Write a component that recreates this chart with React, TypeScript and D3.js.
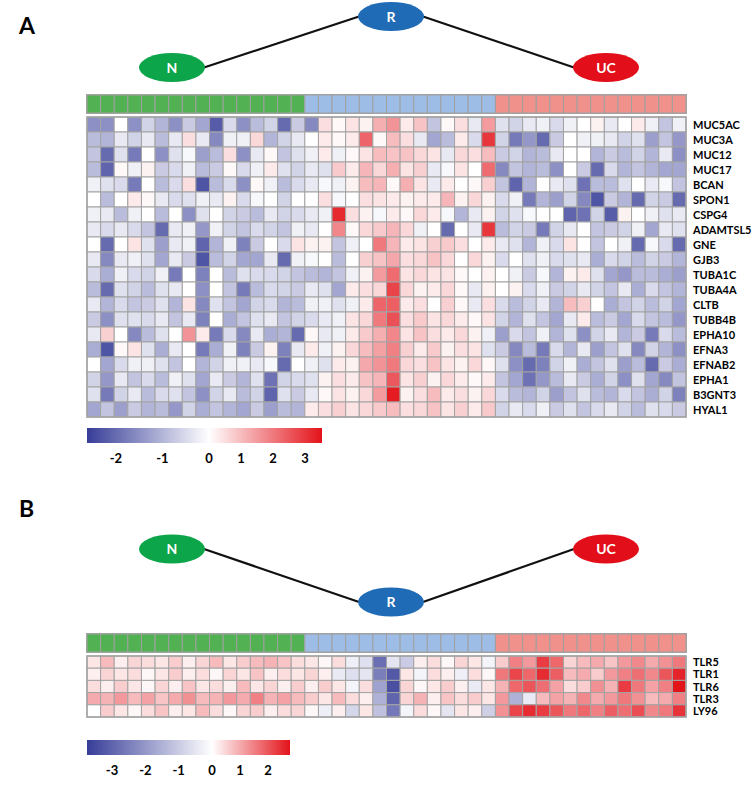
import React from "react";
import * as d3 from "d3";

// sample groups (columns)
const groupNames = ["N", "R", "UC"];
const groupSizes = [16, 14, 14];

// panel A genes + z-scores
const genesA = ["MUC5AC", "MUC3A", "MUC12", "MUC17", "BCAN", "SPON1", "CSPG4", "ADAMTSL5", "GNE", "GJB3",
  "TUBA1C", "TUBA4A", "CLTB", "TUBB4B", "EPHA10", "EFNA3", "EFNAB2", "EPHA1", "B3GNT3", "HYAL1"];
const valuesA = [
  [-1.5,-1.5,0,-1.5,-0.6,-1.0,-1.5,-0.7,-1.2,-2.2,-0.5,-1.5,-0.9,-0.6,-2.0,-0.7, -1.6,0.5,0.1,0.4,0.2,1.2,1.6,0.3,0.9,-0.8,0.1,0.5,-0.3,1.5, -0.4,-0.6,-0.3,-0.2,-0.5,-0.2,0.0,0.2,-0.3,0.0,0.3,-0.2,-0.8,-0.2],
  [-0.9,-1.0,-0.3,-0.6,-0.3,-0.9,-0.3,0.5,-0.3,-1.6,-0.2,-0.2,0.6,-1.0,-0.6,-0.3, 0.0,0.3,0.1,0.3,2.3,0.1,1.0,0.5,-0.3,-1.2,-0.9,0.3,-0.5,3.0, -0.6,-1.8,-1.4,-2.0,-0.7,0.0,-0.2,-0.2,-0.3,-0.6,-0.4,-1.3,-0.8,-1.4],
  [-0.8,-2.0,-0.4,-1.8,0,-1.5,-0.4,-0.1,-1.3,-0.9,0.5,-1.5,-0.3,0.1,-0.8,-0.4, -0.2,0.3,-0.2,0.1,0.4,1.0,0.9,0.9,0.6,0.4,-0.3,0.6,0.5,1.0, -0.7,-0.6,-1.0,-0.9,-0.3,0.0,0.0,-1.0,-0.7,-0.9,-0.6,-1.0,-0.3,-1.5],
  [-0.9,-2.1,0.1,-0.2,0.2,-0.7,-0.5,-0.2,-0.9,-0.7,0.1,-0.5,-0.2,0.3,-0.4,-0.6, -0.3,-0.4,0.8,0.3,1.1,0.6,1.2,0.4,0.7,-0.3,-0.1,0.4,0.0,2.2, -1.6,-0.8,-1.0,-0.9,-1.5,0.0,-0.7,-2.0,-0.5,-1.0,-0.8,-1.0,-1.2,-1.2],
  [-0.2,-0.4,-0.5,-1.8,0,-0.9,-0.5,0.5,-2.3,-0.9,-0.5,-1.5,0.1,-0.2,-0.9,-0.5, -0.3,-0.1,-0.2,0.2,1.0,1.1,0.1,1.2,0.4,-0.3,0.3,0.0,0.1,0.7, -0.8,-2.1,-1.0,0.0,-0.3,-0.4,-1.9,-0.9,-0.9,-0.4,0.0,-0.3,-0.1,-0.8],
  [0,-0.9,0,0.3,0.1,-0.3,-0.5,-0.4,-0.2,-0.3,0.2,-0.5,-0.1,0,-0.6,0, 0.0,0.5,-0.1,0.0,0.5,0.4,0.3,0.2,0.3,0.3,1.1,0.2,0.6,0.2, -0.5,-0.2,-1.8,-1.0,-1.3,-0.6,-1.6,-2.3,-0.7,-1.0,-2.0,-0.6,-0.7,-2.0],
  [-0.2,-0.3,-0.9,-0.2,0.0,-0.9,0.0,-1.5,-0.4,0.0,-0.6,-0.7,-0.9,-0.3,-0.6,-0.5, -0.3,-0.2,3.2,0.5,0.2,-0.1,0.3,0.1,0.6,0.3,-0.1,-1.0,-0.3,0.2, -0.6,-0.4,-0.1,0.0,0.0,-2.1,-1.9,-0.6,-2.2,0.2,0.0,-0.2,-0.4,-0.3],
  [-0.3,-0.5,-0.3,-0.5,-0.8,-2.0,-0.3,-0.2,-1.4,-0.2,-0.6,-0.8,-0.5,-0.6,-0.8,-0.2, -0.3,0.0,1.8,0.1,0.6,0.8,1.1,0.6,-0.2,0.0,-2.0,0.0,-0.3,3.0, -0.9,-0.6,-0.7,-1.8,-0.6,-0.3,0.0,-0.8,-0.7,-0.6,-0.2,-1.2,-0.3,-0.4],
  [0.0,-2.0,0.0,0.4,-0.4,-1.3,-0.3,-0.2,-2.1,-1.0,-0.2,-1.7,-0.7,0.0,-0.5,0.4, 0.2,0.2,-0.8,-0.2,0.0,2.0,1.1,0.3,0.4,0.7,0.8,0.5,0.0,0.3, -0.3,-0.4,-1.0,-0.2,-0.5,0.4,0.0,-0.8,0.0,-0.2,-2.0,-0.1,-0.5,-2.0],
  [-0.3,-1.6,-0.3,-0.2,-0.4,-1.2,-0.3,-0.7,-2.3,-0.9,-0.6,-1.2,-1.2,-0.3,-2.0,-0.2, -0.1,0.0,-0.9,0.0,0.7,0.9,1.3,0.5,0.6,0.9,0.6,0.0,0.6,0.2, -0.5,0.0,-0.4,-0.2,-0.5,-0.4,-0.3,-1.1,-0.5,-0.6,-0.9,-0.6,-0.7,-1.0],
  [-0.5,-1.1,-0.2,-0.5,-0.6,-0.2,-1.8,0.0,-1.7,0.0,-0.9,-0.4,-0.5,-0.5,-0.6,-0.8, -0.9,-1.0,-0.8,-0.2,0.2,1.5,2.2,0.4,0.6,0.4,0.4,0.1,0.0,0.2, 0.0,-0.2,-0.7,-0.1,-1.0,0.2,0.3,-0.4,-1.2,-1.4,-0.9,-0.9,-1.1,-1.3],
  [-0.9,-2.0,-0.4,-0.6,-0.9,-0.4,-0.3,0.0,-1.5,0.0,-0.8,-1.8,-0.9,-0.5,-0.6,-0.7, -0.3,-0.4,-1.2,0.3,0.5,0.6,2.8,0.6,0.2,0.3,0.6,0.1,-0.3,0.2, 0.0,0.2,-0.5,-0.2,-0.7,-0.6,-0.3,-0.6,-0.8,-0.3,-1.1,-0.5,-0.8,-1.0],
  [-0.3,-1.0,-0.5,-0.8,-0.7,-0.4,-1.0,0.4,-1.6,-0.4,-0.8,-1.2,-0.6,-0.5,-1.0,-0.9, -0.2,-0.2,-0.4,-0.2,0.3,2.3,2.4,0.3,0.5,0.0,0.7,0.1,-0.3,0.5, -0.5,-0.9,-0.6,-0.3,-1.0,1.0,0.7,0.0,-1.1,-0.8,-0.6,-0.9,-0.6,-1.2],
  [-0.7,-1.5,-0.4,-0.4,-0.5,-0.3,-0.8,-0.3,-1.7,0.0,-1.1,-0.8,-0.4,-0.3,-0.8,-0.6, -0.5,-0.3,-0.2,0.4,0.6,2.0,2.6,0.5,0.8,0.4,0.6,0.3,0.1,0.4, -0.6,-1.0,-0.4,-0.8,-1.2,-0.3,0.3,-0.9,-0.7,-1.2,-0.5,-0.8,-0.9,-1.4],
  [-0.3,0.7,0.0,-1.6,-0.9,-0.4,0.0,1.6,0.3,-1.8,-0.5,-1.6,-0.3,-1.1,-1.0,-2.0, 0.1,-0.3,-0.2,0.3,0.8,1.2,1.8,0.4,0.9,0.5,0.3,0.6,0.2,-0.2, -1.3,-0.5,-0.8,-0.2,-1.0,-0.4,-1.5,-0.6,-0.3,-1.0,-0.7,-1.8,-0.5,-0.9],
  [-1.1,-2.3,0.1,0.4,-0.4,-1.1,-0.3,0.0,-1.8,-1.1,-0.2,-1.7,-0.7,0.2,-1.7,-0.3, 0.3,-0.2,0.2,0.6,1.0,1.4,1.9,0.7,0.3,0.8,0.2,0.5,0.4,-0.4, -0.7,-1.6,-0.9,-1.8,-0.5,-1.0,-0.3,-1.3,-0.8,-0.4,-1.6,-0.6,-1.0,-1.5],
  [0.0,-1.2,-0.5,-0.2,-0.2,-0.4,-0.8,0.0,-1.0,-0.6,-0.2,-0.2,-0.3,-0.1,-2.0,0.0, -0.2,-0.4,0.3,0.2,1.3,1.6,2.0,0.6,0.5,0.9,0.4,0.2,0.6,0.1, -0.4,-1.5,-2.0,-1.7,-0.6,-0.2,-1.1,-0.8,-0.4,-1.3,-0.9,-2.0,-0.7,-1.1],
  [-0.6,-1.4,-0.3,-0.8,-0.5,-0.9,-0.2,-0.4,-1.2,-0.3,-0.7,-1.0,-0.4,-1.9,-0.6,-0.5, -0.4,0.2,0.5,0.3,0.9,1.1,2.5,0.4,0.7,0.2,0.6,0.3,0.1,0.3, -0.8,-1.2,-1.9,-1.4,-0.9,-0.3,-0.7,-1.1,-0.6,-1.5,-0.4,-1.2,-1.6,-0.8],
  [-0.4,-1.8,-0.6,-0.3,-0.9,-0.5,-0.4,-0.8,-1.5,-0.6,-0.3,-0.9,-0.6,-2.1,-0.4,-0.7, -0.3,0.1,0.4,0.2,0.6,1.5,3.4,0.2,0.5,1.0,0.3,0.5,0.2,0.6, -0.5,-0.9,-1.0,-0.6,-1.3,-0.8,-0.4,-0.9,-1.0,-0.5,-0.8,-1.1,-0.6,-1.7],
  [-1.2,-0.8,-1.3,-0.7,-1.0,-0.9,-1.4,-0.6,-1.1,-0.8,-1.0,-1.2,-0.7,-1.3,-0.9,-1.0, 0.3,0.5,0.7,0.4,0.6,0.8,1.0,0.5,0.6,0.9,0.4,0.7,0.3,0.8, -0.6,-0.3,-0.5,-0.2,-0.7,-0.4,-0.8,-0.5,-0.3,-0.6,-0.9,-0.4,-0.5,-0.7],
];
const ticksA = [-2, -1, 0, 1, 2, 3];
const rangeA = [-2.62, 0, 3.53];

// panel B genes + z-scores
const genesB = ["TLR5", "TLR1", "TLR6", "TLR3", "LY96"];
const valuesB = [
  [0.3,0.8,0.2,0.5,0.4,0.3,0.6,0.2,0.5,0.8,0.3,0.6,0.8,0.9,0.7,0.4, 0.3,0.1,0.4,-0.3,-0.6,-2.8,-0.5,-1.0,0.2,0.4,0.1,0.5,0.3,-0.2, 0.6,1.5,1.2,2.3,1.8,0.5,0.8,1.0,0.7,1.2,1.4,1.0,1.3,1.6],
  [0.2,0.5,0.3,0.4,0.1,0.3,0.6,0.2,0.4,0.1,0.5,0.3,0.7,0.2,0.4,0.3, 0.5,0.2,-0.4,-0.6,-0.5,-2.5,-3.2,0.3,-0.2,0.4,0.2,-0.3,0.4,0.1, 1.6,2.2,1.8,2.5,1.9,0.8,1.0,0.6,1.2,1.5,1.7,1.4,2.0,2.6],
  [0.4,0.2,0.6,0.3,0.1,0.5,0.2,0.7,0.3,0.4,0.2,0.8,0.3,0.5,0.2,0.6, 0.2,0.6,0.3,-0.2,0.4,-1.8,-3.4,0.5,0.1,0.3,0.6,0.2,-0.4,0.3, 0.9,1.8,2.0,1.7,1.1,0.4,0.6,1.3,0.9,2.3,1.6,1.1,1.5,2.8],
  [1.0,0.9,1.2,0.8,1.1,0.7,1.0,1.3,0.8,0.9,1.2,1.0,1.5,0.9,1.1,0.8, 0.6,0.3,0.8,0.4,0.2,-1.5,-3.0,0.5,0.9,0.2,0.7,0.4,0.6,0.3, 1.2,-1.5,-0.4,0.8,1.1,0.9,1.4,1.0,1.2,1.6,1.3,0.8,1.0,1.5],
  [0.0,0.6,0.3,0.1,0.4,0.7,0.2,0.3,0.8,0.4,0.1,0.5,0.6,0.2,0.4,0.5, 0.1,-0.3,0.2,-0.8,0.3,-1.2,-2.6,-0.2,0.4,0.1,-0.5,0.3,0.2,-0.9, 1.3,2.2,2.5,2.3,2.0,1.6,1.8,1.5,1.9,1.7,2.1,1.4,1.6,2.4],
];
const ticksB = [-3, -2, -1, 0, 1, 2];
const rangeB = [-3.75, 0, 2.79];

const groupFill: Record<string, string> = { N: "#52b152", R: "#9dbde6", UC: "#f0918b" };
const nodeFill: Record<string, string> = { N: "#0ca54a", R: "#1f6bb6", UC: "#e20f1a" };
const FONT = "Lato, 'Open Sans', sans-serif";

const columns = groupNames.flatMap((g, i) => d3.range(groupSizes[i]).map(() => g));

const x = d3.scaleBand<number>().domain(d3.range(columns.length)).range([87, 686]);

function Panel({ letterY, letter, nodeY, barY, rowH, cbGap, genes, values, ticks, range, cbWidth, cbZero }: any) {
  const heatY = barY + 22;
  const y = d3.scaleBand<number>().domain(d3.range(genes.length)).range([heatY, heatY + genes.length * rowH]);
  const color = d3.scaleLinear<string>().domain(range).range(["#373d98", "#ffffff", "#e3131a"]).clamp(true);

  const nodeX: Record<string, number> = { N: 172, R: 391, UC: 606 };
  const rx = 33, ry = 14.5;

  const cbY = y.range()[1] + cbGap;
  // colour key: each side of zero scaled on its own
  const cb = d3.scaleLinear().domain(range).range([87, cbZero, 87 + cbWidth]);
  const gid = "grad" + letter;
  const zeroFrac = (cbZero - 87) / cbWidth;

  return (
    <g>
      <text x={19} y={letterY} fontSize={23} fontWeight="bold" fontFamily={FONT}>{letter}</text>
      <line x1={nodeX.N + rx - 1} y1={nodeY.N} x2={nodeX.R - rx + 1} y2={nodeY.R} stroke="#111" strokeWidth={2.2} />
      <line x1={nodeX.R + rx - 1} y1={nodeY.R} x2={nodeX.UC - rx + 1} y2={nodeY.UC} stroke="#111" strokeWidth={2.2} />
      {groupNames.map((g) => (
        <g key={g}>
          <ellipse cx={nodeX[g]} cy={nodeY[g]} rx={rx} ry={ry} fill={nodeFill[g]} />
          <text x={nodeX[g]} y={nodeY[g] + 5} textAnchor="middle" fontSize={14} fontWeight="bold" fill="#fff" fontFamily={FONT}>{g}</text>
        </g>
      ))}
      {/* group bar */}
      <rect x={87} y={barY} width={599} height={18} fill="none" stroke="#a5a5a5" strokeWidth={2} />
      {columns.map((g, i) => (
        <rect key={i} x={x(i)} y={barY} width={x.bandwidth()} height={18} fill={groupFill[g]} stroke="#a0a0a0" strokeWidth={1} />
      ))}
      {/* heatmap */}
      {values.map((row: number[], r: number) =>
        row.map((v, c) => (
          <rect key={r + "-" + c} x={x(c)} y={y(r)} width={x.bandwidth()} height={y.bandwidth()} fill={color(v)} stroke="#a3a3a3" strokeWidth={1} />
        ))
      )}
      <rect x={87} y={heatY} width={599} height={genes.length * rowH} fill="none" stroke="#a3a3a3" strokeWidth={1.5} />
      {genes.map((g: string, r: number) => (
        <text key={g} x={693} y={(y(r) as number) + rowH / 2 + 4} fontSize={11} fontWeight="bold" fontFamily={FONT}>{g}</text>
      ))}
      {/* colour key */}
      <defs>
        <linearGradient id={gid} x1="0" x2="1" y1="0" y2="0">
          <stop offset="0" stopColor="#373d98" />
          <stop offset={zeroFrac} stopColor="#ffffff" />
          <stop offset="1" stopColor="#e3131a" />
        </linearGradient>
      </defs>
      <rect x={87} y={cbY} width={cbWidth} height={15} fill={`url(#${gid})`} />
      {ticks.map((t: number) => (
        <text key={t} x={cb(t)} y={cbY + 35} textAnchor="middle" fontSize={13} fontWeight="bold" fontFamily={FONT}>{t < 0 ? "-" + Math.abs(t) : t}</text>
      ))}
    </g>
  );
}

export default function App() {
  return (
    <svg width={752} height={789} style={{ position: "absolute", left: 0, top: 0, background: "#fff" }}>
      <Panel letter="A" letterY={34} nodeY={{ N: 67.5, R: 16.5, UC: 67.5 }} barY={95} rowH={15} cbGap={11}
        genes={genesA} values={valuesA} ticks={ticksA} range={rangeA} cbWidth={235} cbZero={209} />
      <Panel letter="B" letterY={517} nodeY={{ N: 549, R: 602, UC: 549 }} barY={634} rowH={12.2} cbGap={23}
        genes={genesB} values={valuesB} ticks={ticksB} range={rangeB} cbWidth={203} cbZero={212} />
    </svg>
  );
}
